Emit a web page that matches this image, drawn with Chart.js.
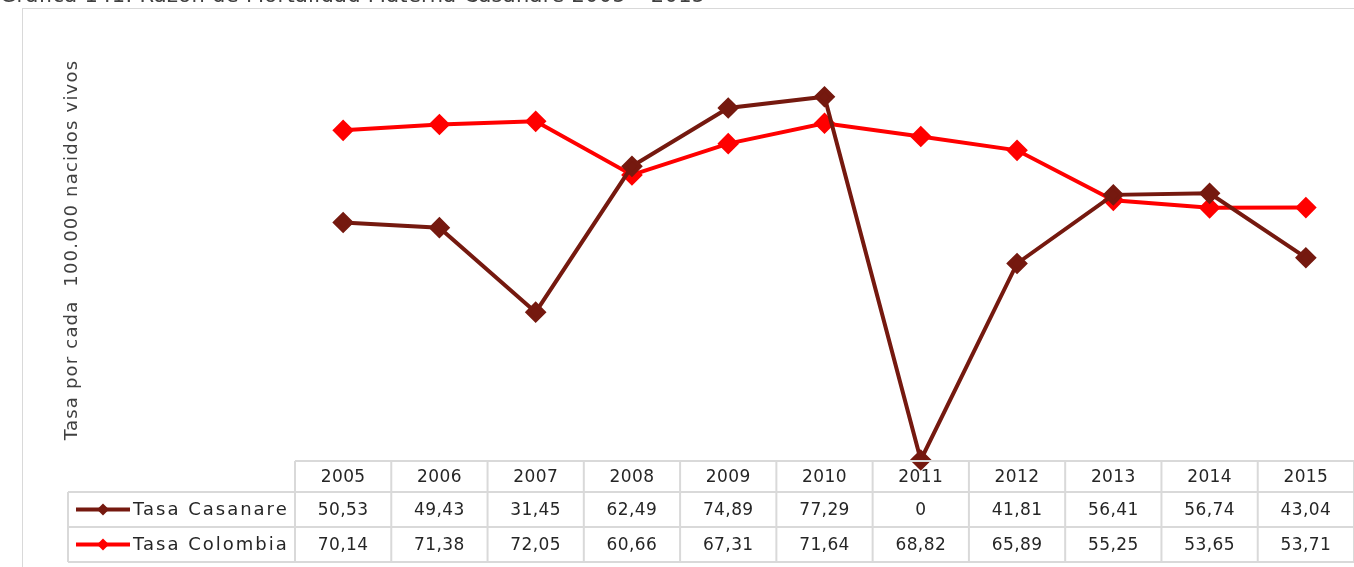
<!DOCTYPE html>
<html>
<head>
<meta charset="utf-8">
<script src="https://cdn.jsdelivr.net/npm/chart.js@4"></script>
<style>
  html, body { margin: 0; padding: 0; background: #fff; overflow: hidden; }
  #wrap { width: 1354px; height: 567px; position: relative; }
</style>
</head>
<body>
<div id="wrap"><canvas id="chart" width="1354" height="567"></canvas></div>
<script>
const years = ['2005', '2006', '2007', '2008', '2009', '2010', '2011', '2012', '2013', '2014', '2015'];
const casanare = [50.53, 49.43, 31.45, 62.49, 74.89, 77.29, 0, 41.81, 56.41, 56.74, 43.04];
const colombia = [70.14, 71.38, 72.05, 60.66, 67.31, 71.64, 68.82, 65.89, 55.25, 53.65, 53.71];
const seriesNames = ['Tasa Casanare', 'Tasa Colombia'];
const seriesColors = ['#75190f', '#ff0000'];
const titleText = 'Gráfica 141. Razón de Mortalidad Materna Casanare 2005 – 2015';
const yTitle = 'Tasa por cada  100.000 nacidos vivos';

const FONT = '"DejaVu Sans", sans-serif';

// formats 62.49 -> "62,49", 0 -> "0"
const fmt = (v) => Number.isInteger(v) ? String(v) : v.toFixed(2).replace('.', ',');

//Draws frame, title, axis title and the data table under the plot
const tablePlugin = {
  id: 'dataTable',
  beforeDraw(chart) {
    const ctx = chart.ctx;
    ctx.save();
    ctx.strokeStyle = '#d9d9d9';
    ctx.lineWidth = 1;
    ctx.strokeRect(22.5, 8.5, 1400, 700);
    ctx.fillStyle = '#404040';
    ctx.font = '21px ' + FONT;
    ctx.letterSpacing = '0.3px';
    ctx.textBaseline = 'alphabetic';
    ctx.textAlign = 'left';
    ctx.fillText(titleText, 0, 2);
    // y axis title
    ctx.translate(72, 250);
    ctx.rotate(-Math.PI / 2);
    ctx.textAlign = 'center';
    ctx.textBaseline = 'middle';
    ctx.font = '18px ' + FONT;
    ctx.letterSpacing = '1.2px';
    ctx.fillText(yTitle, 0, 0);
    ctx.restore();
  },
  afterDraw(chart) {
    const ctx = chart.ctx;
    const x = chart.scales.x;
    const area = chart.chartArea;
    const step = x.getPixelForValue(1) - x.getPixelForValue(0);
    const left = x.getPixelForValue(0) - step / 2;
    const right = x.getPixelForValue(years.length - 1) + step / 2;
    const legendLeft = 68;
    const rows = [area.bottom + 1, area.bottom + 32, area.bottom + 67, area.bottom + 102];
    ctx.save();
    ctx.strokeStyle = '#d9d9d9';
    ctx.lineWidth = 2;
    // horizontal lines
    ctx.beginPath();
    ctx.moveTo(left, rows[0]); ctx.lineTo(right, rows[0]);
    for (let r = 1; r < rows.length; r++) {
      ctx.moveTo(legendLeft, rows[r]); ctx.lineTo(right, rows[r]);
    }
    // vertical lines
    ctx.moveTo(legendLeft, rows[1]); ctx.lineTo(legendLeft, rows[3]);
    for (let i = 0; i <= years.length; i++) {
      const px = left + i * step;
      ctx.moveTo(px, rows[0]); ctx.lineTo(px, rows[3]);
    }
    ctx.stroke();

    ctx.fillStyle = '#262626';
    ctx.font = '17px ' + FONT;
    ctx.letterSpacing = '0.4px';
    ctx.textAlign = 'center';
    ctx.textBaseline = 'middle';
    years.forEach((y, i) => {
      const cx = x.getPixelForValue(i);
      ctx.fillText(y, cx, (rows[0] + rows[1]) / 2 + 1);
      ctx.fillText(fmt(casanare[i]), cx, (rows[1] + rows[2]) / 2 + 1);
      ctx.fillText(fmt(colombia[i]), cx, (rows[2] + rows[3]) / 2 + 1);
    });

    // legend keys
    ctx.font = '18px ' + FONT;
    ctx.letterSpacing = '2px';
    seriesNames.forEach((name, k) => {
      const cy = (rows[k + 1] + rows[k + 2]) / 2;
      ctx.strokeStyle = seriesColors[k];
      ctx.lineWidth = 4;
      ctx.beginPath();
      ctx.moveTo(76, cy); ctx.lineTo(130, cy);
      ctx.stroke();
      ctx.fillStyle = seriesColors[k];
      ctx.beginPath();
      ctx.moveTo(103, cy - 6); ctx.lineTo(109, cy); ctx.lineTo(103, cy + 6); ctx.lineTo(97, cy);
      ctx.closePath();
      ctx.fill();
      ctx.fillStyle = '#262626';
      ctx.textAlign = 'left';
      ctx.fillText(name, 133, cy + 1);
    });
    ctx.restore();
  }
};

new Chart(document.getElementById('chart'), {
  type: 'line',
  plugins: [tablePlugin],
  data: {
    labels: years,
    datasets: [
      {
        label: seriesNames[0],
        data: casanare,
        borderColor: seriesColors[0],
        backgroundColor: seriesColors[0],
        borderWidth: 4,
        pointStyle: 'rectRot',
        pointRadius: 8,
        pointHoverRadius: 8,
        clip: false,
        tension: 0
      },
      {
        label: seriesNames[1],
        data: colombia,
        borderColor: seriesColors[1],
        backgroundColor: seriesColors[1],
        borderWidth: 4,
        pointStyle: 'rectRot',
        pointRadius: 8,
        pointHoverRadius: 8,
        clip: false,
        tension: 0
      }
    ]
  },
  options: {
    responsive: false,
    animation: false,
    layout: { autoPadding: false, padding: { left: 295, right: 0, top: 84, bottom: 107 } },
    plugins: {
      legend: { display: false },
      tooltip: { enabled: false },
      title: { display: false }
    },
    scales: {
      x: { display: false, offset: true },
      y: { display: false, min: 0, max: 80 }
    }
  }
});
</script>
</body>
</html>
